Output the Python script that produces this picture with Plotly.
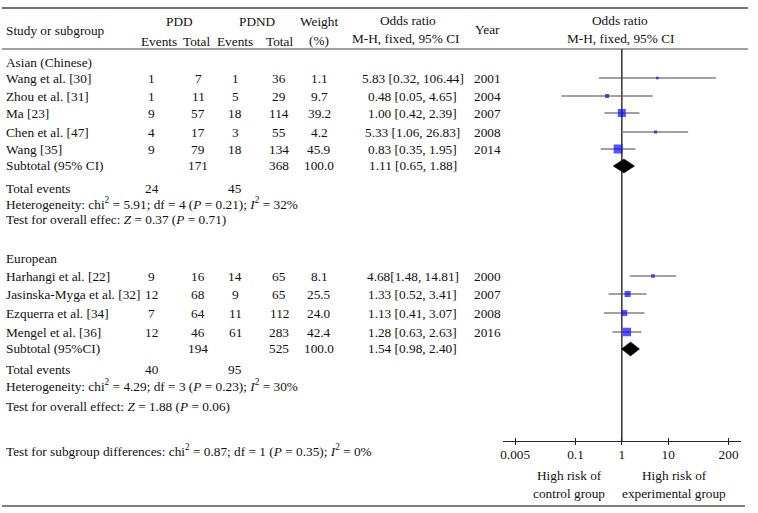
import plotly.graph_objects as go

W, H = 758, 513

# ---------------- data ----------------
asian_studies = ["Wang et al. [30]", "Zhou et al. [31]", "Ma [23]", "Chen et al. [47]", "Wang [35]"]
asian_pdd_events = [1, 1, 9, 4, 9]
asian_pdd_total = [7, 11, 57, 17, 79]
asian_pdnd_events = [1, 5, 18, 3, 18]
asian_pdnd_total = [36, 29, 114, 55, 134]
asian_weight = [1.1, 9.7, 39.2, 4.2, 45.9]
asian_or = [5.83, 0.48, 1.00, 5.33, 0.83]
asian_lo = [0.32, 0.05, 0.42, 1.06, 0.35]
asian_hi = [106.44, 4.65, 2.39, 26.83, 1.95]
asian_year = [2001, 2004, 2007, 2008, 2014]
asian_sub = dict(pdd_total=171, pdnd_total=368, weight=100.0, orv=1.11, lo=0.65, hi=1.88,
                 ev_pdd=24, ev_pdnd=45, chi2=5.91, df=4, p_het=0.21, i2=32, z=0.37, p_z=0.71)

euro_studies = ["Harhangi et al. [22]", "Jasinska-Myga et al. [32]", "Ezquerra et al. [34]", "Mengel et al. [36]"]
euro_pdd_events = [9, 12, 7, 12]
euro_pdd_total = [16, 68, 64, 46]
euro_pdnd_events = [14, 9, 11, 61]
euro_pdnd_total = [65, 65, 112, 283]
euro_weight = [8.1, 25.5, 24.0, 42.4]
euro_or = [4.68, 1.33, 1.13, 1.28]
euro_lo = [1.48, 0.52, 0.41, 0.63]
euro_hi = [14.81, 3.41, 3.07, 2.63]
euro_year = [2000, 2007, 2008, 2016]
euro_sub = dict(pdd_total=194, pdnd_total=525, weight=100.0, orv=1.54, lo=0.98, hi=2.40,
                ev_pdd=40, ev_pdnd=95, chi2=4.29, df=3, p_het=0.23, i2=30, z=1.88, p_z=0.06)

subgroup_diff = dict(chi2=0.87, df=1, p=0.35, i2=0)

tick_vals = [0.005, 0.1, 1, 10, 200]
tick_text = ["0.005", "0.1", "1", "10", "200"]

# ---------------- layout (pixel rows / columns) ----------------
FONT = "Liberation Serif"
FS = 13.3
COL = dict(study=2, pdd_ev=150, pdd_tot=197, pdnd_ev=234, pdnd_tot=278, weight=318,
           ortxt=412, year=487)
asian_rows = [78, 96, 113, 132, 149]
asian_layout = dict(group=62, sub=165, events=188, het=203, test=219)
euro_rows = [276, 294, 313, 332]
euro_layout = dict(group=258, sub=348, events=369, het=385, test=406)
euro_gap = ["", " ", " ", " "]
asian_gap = [" "] * 5

fig = go.Figure()
ann = []


def txt(x, y, s, anchor="center"):
    ann.append(dict(x=x / W, y=y, xref="paper", yref="y", text=s, showarrow=False,
                    xanchor=anchor, yanchor="middle", font=dict(family=FONT, size=FS, color="#111")))


# headers
txt(COL["study"], 30, "Study or subgroup", "left")
txt(178, 21, "PDD")
txt(157, 41, "Events")
txt(195, 41, "Total")
txt(256, 21, "PDND")
txt(COL["pdnd_ev"], 41, "Events")
txt(COL["pdnd_tot"], 41, "Total")
txt(COL["weight"], 21, "Weight")
txt(COL["weight"], 40, "(%)")
txt(407, 20, "Odds ratio")
txt(405, 38, "M-H, fixed, 95% CI")
txt(COL["year"], 29, "Year")
txt(620, 20, "Odds ratio")
txt(620, 38, "M-H, fixed, 95% CI")


def group_block(name, studies, pe, pt, ne, nt, w, orv, lo, hi, yr, gaps, rows, lay, sub, subtitle, testlabel):
    txt(COL["study"], lay["group"], name, "left")
    for i, s in enumerate(studies):
        y = rows[i]
        txt(COL["study"], y, s, "left")
        txt(COL["pdd_ev"], y, str(pe[i]))
        txt(COL["pdd_tot"], y, str(pt[i]))
        txt(COL["pdnd_ev"], y, str(ne[i]))
        txt(COL["pdnd_tot"], y, str(nt[i]))
        txt(COL["weight"], y, f"{w[i]:.1f}")
        txt(COL["ortxt"], y, f"{orv[i]:.2f}{gaps[i]}[{lo[i]:.2f}, {hi[i]:.2f}]")
        txt(COL["year"], y, str(yr[i]))
    y = lay["sub"]
    txt(COL["study"], y, subtitle, "left")
    txt(COL["pdd_tot"], y, str(sub["pdd_total"]))
    txt(COL["pdnd_tot"], y, str(sub["pdnd_total"]))
    txt(COL["weight"], y, f"{sub['weight']:.1f}")
    txt(COL["ortxt"], y, f"{sub['orv']:.2f} [{sub['lo']:.2f}, {sub['hi']:.2f}]")
    y = lay["events"]
    txt(COL["study"], y, "Total events", "left")
    txt(COL["pdd_ev"], y, str(sub["ev_pdd"]))
    txt(COL["pdnd_ev"], y, str(sub["ev_pdnd"]))
    txt(COL["study"], lay["het"],
        f"Heterogeneity: chi<sup>2</sup> = {sub['chi2']:.2f}; df = {sub['df']} (<i>P</i> = {sub['p_het']:.2f}); "
        f"<i>I</i><sup>2</sup> = {sub['i2']}%", "left")
    txt(COL["study"], lay["test"],
        f"{testlabel}: <i>Z</i> = {sub['z']:.2f} (<i>P</i> = {sub['p_z']:.2f})", "left")

    # CI lines
    xs, ys = [], []
    for i in range(len(studies)):
        xs += [lo[i], hi[i], None]
        ys += [rows[i], rows[i], None]
    fig.add_trace(go.Scatter(x=xs, y=ys, mode="lines", line=dict(color="#444", width=1.2),
                             hoverinfo="skip", showlegend=False))
    # weighted squares
    fig.add_trace(go.Scatter(x=orv, y=rows, mode="markers",
                             marker=dict(symbol="square", color="#0a0aff",
                                         size=[2.5 + 0.14 * v for v in w], line=dict(width=0)),
                             showlegend=False))
    # diamond
    h = 7
    yc = lay["sub"] + 1
    fig.add_trace(go.Scatter(x=[sub["lo"], sub["orv"], sub["hi"], sub["orv"], sub["lo"]],
                             y=[yc, yc - h, yc, yc + h, yc], mode="lines", fill="toself",
                             fillcolor="black", line=dict(color="black", width=0.5),
                             showlegend=False, hoverinfo="skip"))


group_block("Asian (Chinese)", asian_studies, asian_pdd_events, asian_pdd_total, asian_pdnd_events,
            asian_pdnd_total, asian_weight, asian_or, asian_lo, asian_hi, asian_year, asian_gap,
            asian_rows, asian_layout, asian_sub, "Subtotal (95% CI)", "Test for overall effec")
group_block("European", euro_studies, euro_pdd_events, euro_pdd_total, euro_pdnd_events,
            euro_pdnd_total, euro_weight, euro_or, euro_lo, euro_hi, euro_year, euro_gap,
            euro_rows, euro_layout, euro_sub, "Subtotal (95%CI)", "Test for overall effect")

txt(COL["study"], 450,
    f"Test for subgroup differences: chi<sup>2</sup> = {subgroup_diff['chi2']:.2f}; df = {subgroup_diff['df']} "
    f"(<i>P</i> = {subgroup_diff['p']:.2f}); <i>I</i><sup>2</sup> = {subgroup_diff['i2']}%", "left")

txt(569, 475, "High risk of")
txt(569, 493, "control group")
txt(674, 475, "High risk of")
txt(674, 493, "experimental group")

AX_Y = 441
shapes = [
    dict(type="line", xref="paper", yref="y", x0=0, x1=748 / W, y0=8, y1=8, line=dict(color="#444", width=1.5)),
    dict(type="line", xref="paper", yref="y", x0=0, x1=748 / W, y0=49, y1=49, line=dict(color="#444", width=1.2)),
    dict(type="line", xref="paper", yref="y", x0=0, x1=745 / W, y0=506, y1=506, line=dict(color="#555", width=1.5)),
    dict(type="line", xref="x", yref="y", x0=1, x1=1, y0=49, y1=AX_Y, line=dict(color="black", width=1.2),
         layer="below"),
]

xr = [-2.57, 2.57]
dom = [502 / W, 741 / W]
pos = (H - AX_Y) / H
fig.update_layout(
    width=W, height=H, margin=dict(l=0, r=0, t=0, b=0),
    paper_bgcolor="white", plot_bgcolor="white",
    annotations=ann, shapes=shapes, showlegend=False,
    xaxis=dict(type="log", range=xr, domain=dom, anchor="free", position=pos,
               showline=True, linecolor="#222", linewidth=1, ticks="outside", ticklen=3,
               tickcolor="#222", tickvals=tick_vals, ticktext=tick_text, showgrid=False,
               zeroline=False, tickfont=dict(family=FONT, size=FS, color="#111"), fixedrange=True,
               ticklabelstandoff=-2),
    xaxis2=dict(type="log", range=xr, domain=dom, overlaying="x", anchor="free", position=pos,
                showline=False, ticks="inside", ticklen=3, tickcolor="#222", tickvals=tick_vals,
                showticklabels=False, showgrid=False, zeroline=False, fixedrange=True),
    yaxis=dict(range=[H, 0], domain=[0, 1], visible=False, fixedrange=True),
)
# invisible trace so that the overlaid tick axis is drawn
fig.add_trace(go.Scatter(x=[1], y=[-100], xaxis="x2", yaxis="y", mode="markers",
                         marker=dict(opacity=0), showlegend=False, hoverinfo="skip"))

fig.write_html("out.html", config={"displayModeBar": False},
               post_script="document.body.style.margin='0';")
